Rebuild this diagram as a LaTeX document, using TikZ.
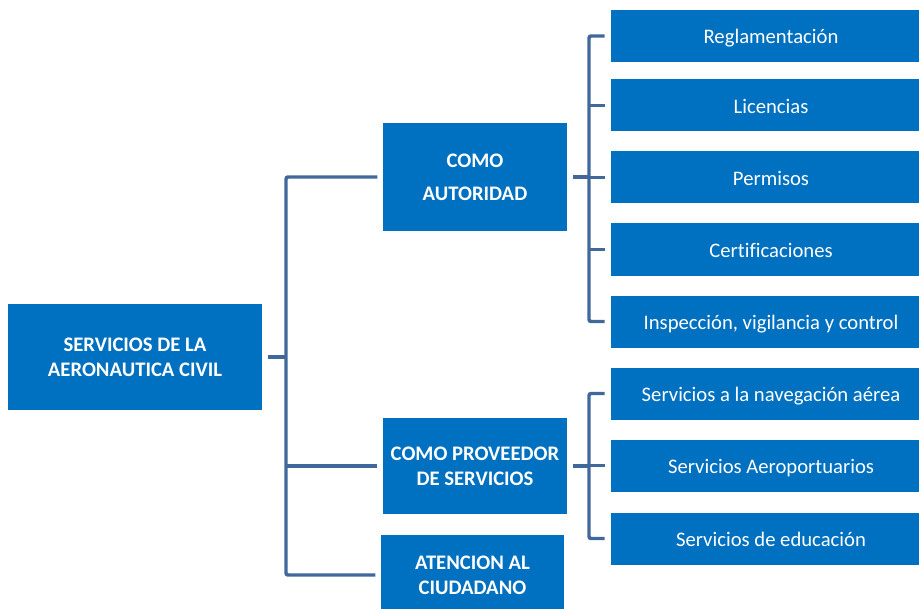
\documentclass[tikz,border=0pt]{standalone}
\usepackage{fontspec}
\setmainfont{Carlito}[Ligatures=NoCommon]
\definecolor{boxblue}{RGB}{0,112,192}
\definecolor{linkblue}{RGB}{64,104,154}
\begin{document}
\begin{tikzpicture}[x=0.75pt,y=-0.75pt,
  box/.style={fill=boxblue,text=white,inner sep=0pt,align=center,font=\fontsize{15.5}{18.5}\selectfont},
  mainbox/.style={box,font=\fontsize{15.5}{18.5}\selectfont\bfseries},
  leaf/.style={box,minimum width=240pt,minimum height=39pt,text height=13pt,text depth=1.6pt},
  conn/.style={draw=linkblue,line width=2.6pt,rounded corners=1.5pt}]
\useasboundingbox (0,0) rectangle (919,609);
\clip (0,0) rectangle (919,609);
\node[mainbox,minimum width=190.5pt,minimum height=79.5pt] (root) at (135,357) {SERVICIOS DE LA\\AERONAUTICA CIVIL};
\node[mainbox,minimum width=138pt,minimum height=81pt] (aut) at (475,177) {COMO\\[6pt]AUTORIDAD};
\node[mainbox,minimum width=138pt,minimum height=72pt] (prov) at (475,466) {COMO PROVEEDOR\\DE SERVICIOS};
\node[mainbox,minimum width=137.25pt,minimum height=60pt] (aten) at (472.5,575) {ATENCION AL\\CIUDADANO};
\node[leaf] (reg) at (771,36) {Reglamentación};
\node[leaf] (lic) at (771,105.5) {Licencias};
\node[leaf] (per) at (771,177.5) {Permisos};
\node[leaf] (cer) at (771,249.5) {Certificaciones};
\node[leaf] (ins) at (771,321.5) {Inspección, vigilancia y control};
\node[leaf] (nav) at (771,393.5) {Servicios a la navegación aérea};
\node[leaf] (aero) at (771,465.5) {Servicios Aeroportuarios};
\node[leaf] (edu) at (771,538.5) {Servicios de educación};
% left tree
\coordinate (t) at (286,357);
\draw[conn] ([xshift=4pt]root.east) -- (t);
\draw[conn] ([xshift=-4pt]aut.west) -| (t);
\draw[conn] ([xshift=-4pt]aten.west) -| (t);
\draw[conn] ([xshift=-4pt]prov.west) -- (prov.west -| t);
% autoridad bracket
\coordinate (b1) at (589,177);
\draw[conn] ([xshift=4.5pt]aut.east) -- (b1);
\draw[conn] ([xshift=-4.5pt]reg.west) -| (b1);
\draw[conn] ([xshift=-4.5pt]ins.west) -| (b1);
\draw[conn] ([xshift=-4.5pt]lic.west) -- (lic.west -| b1);
\draw[conn] ([xshift=-4.5pt]per.west) -- (per.west -| b1);
\draw[conn] ([xshift=-4.5pt]cer.west) -- (cer.west -| b1);
% proveedor bracket
\coordinate (b2) at (589,466);
\draw[conn] ([xshift=4.5pt]prov.east) -- (b2);
\draw[conn] ([xshift=-4.5pt]nav.west) -| (b2);
\draw[conn] ([xshift=-4.5pt]edu.west) -| (b2);
\draw[conn] ([xshift=-4.5pt]aero.west) -- (aero.west -| b2);
\end{tikzpicture}
\end{document}
